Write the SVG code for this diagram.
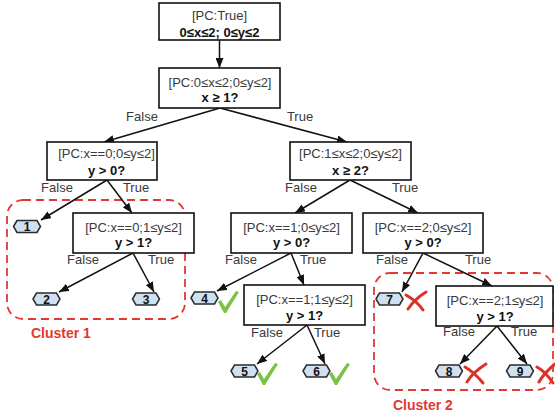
<svg xmlns="http://www.w3.org/2000/svg" width="555" height="417" viewBox="0 0 555 417">
<style>
.box{fill:#fff;stroke:#111;stroke-width:1.6}
.t1{font-family:"Liberation Sans",Arial,sans-serif;font-size:13px;fill:#3a3a3a;text-anchor:middle}
.t2{font-family:"Liberation Sans",Arial,sans-serif;font-size:13px;font-weight:bold;fill:#111;text-anchor:middle}
.lbl{font-family:"Liberation Sans",Arial,sans-serif;font-size:13px;fill:#3a3a3a;text-anchor:middle}
.hex{fill:#cfe0f1;stroke:#2a2a2a;stroke-width:1.5}
.num{font-family:"Liberation Sans",Arial,sans-serif;font-size:12px;font-weight:bold;fill:#111;text-anchor:middle}
.edge{stroke:#111;stroke-width:1.5;fill:none;marker-end:url(#ah)}
.cluster{fill:none;stroke:#e2392f;stroke-width:1.8;stroke-dasharray:8,5}
.clbl{font-family:"Liberation Sans",Arial,sans-serif;font-size:14px;font-weight:bold;fill:#e2392f}
.ok{fill:#7cc247}
.bad{fill:none;stroke:#d8322a;stroke-width:3;stroke-linecap:round}
</style>
<defs>
<marker id="ah" markerUnits="userSpaceOnUse" markerWidth="10" markerHeight="8" viewBox="0 0 10 8" refX="10" refY="4" orient="auto">
<path d="M0,0 L10,4 L0,8 z" fill="#111"/>
</marker>
<path id="hx" d="M-13.5,0 L-10,-6 L10,-6 L13.5,0 L10,6 L-10,6 Z"/>
<path id="chk" d="M0,11 L3,9 L7,16 L18,0 L21,1 L8,22 L6,22 Z"/>
</defs>

<g id="clusters">
<rect class="cluster" x="7" y="200" width="178" height="119" rx="16"/>
<text class="clbl" x="31" y="338">Cluster 1</text>
<rect class="cluster" x="374" y="273" width="179" height="117" rx="16"/>
<text class="clbl" x="393" y="410">Cluster 2</text>
</g>

<g id="connectors">
<line class="edge" x1="219.5" y1="40" x2="219.5" y2="68"/>
<line class="edge" x1="220" y1="108" x2="104" y2="142"/>
<line class="edge" x1="220" y1="108" x2="347" y2="142"/>
<line class="edge" x1="107" y1="180" x2="41" y2="220"/>
<line class="edge" x1="107" y1="180" x2="132" y2="213"/>
<line class="edge" x1="133" y1="253" x2="59" y2="292"/>
<line class="edge" x1="133" y1="253" x2="154" y2="292"/>
<line class="edge" x1="350" y1="180" x2="295" y2="213"/>
<line class="edge" x1="350" y1="180" x2="418" y2="213"/>
<line class="edge" x1="291" y1="253" x2="217" y2="291"/>
<line class="edge" x1="291" y1="253" x2="304" y2="285"/>
<line class="edge" x1="307" y1="325" x2="257" y2="364"/>
<line class="edge" x1="307" y1="325" x2="325" y2="364"/>
<line class="edge" x1="423" y1="253" x2="402" y2="292"/>
<line class="edge" x1="423" y1="253" x2="492" y2="286"/>
<line class="edge" x1="497" y1="326" x2="460" y2="364"/>
<line class="edge" x1="497" y1="326" x2="527" y2="364"/>
<text class="lbl" x="142" y="121">False</text>
<text class="lbl" x="300" y="121">True</text>
<text class="lbl" x="57" y="192">False</text>
<text class="lbl" x="136" y="192">True</text>
<text class="lbl" x="301" y="192">False</text>
<text class="lbl" x="405" y="192">True</text>
<text class="lbl" x="83" y="264">False</text>
<text class="lbl" x="161" y="264">True</text>
<text class="lbl" x="241" y="264">False</text>
<text class="lbl" x="313" y="264">True</text>
<text class="lbl" x="392" y="264">False</text>
<text class="lbl" x="478" y="264">True</text>
<text class="lbl" x="267" y="337">False</text>
<text class="lbl" x="327" y="337">True</text>
<text class="lbl" x="459" y="336">False</text>
<text class="lbl" x="524" y="336">True</text>
</g>

<g id="root">
<rect class="box" x="159" y="3" width="121" height="37"/>
<text class="t1" x="219.5" y="20">[PC:True]</text>
<text class="t2" x="219.5" y="37">0≤x≤2; 0≤y≤2</text>
</g>
<g id="n_x1">
<rect class="box" x="159" y="68" width="121" height="40"/>
<text class="t1" x="220" y="87">[PC:0≤x≤2;0≤y≤2]</text>
<text class="t2" x="220" y="102">x ≥ 1?</text>
</g>
<g id="n_L1">
<rect class="box" x="47" y="142" width="110" height="38"/>
<text class="t1" x="106.5" y="158">[PC:x==0;0≤y≤2]</text>
<text class="t2" x="106.5" y="175">y &gt; 0?</text>
</g>
<g id="n_R1">
<rect class="box" x="290" y="142" width="121" height="38"/>
<text class="t1" x="350.5" y="158">[PC:1≤x≤2;0≤y≤2]</text>
<text class="t2" x="350.5" y="175">x ≥ 2?</text>
</g>
<g id="n_L2">
<rect class="box" x="73" y="213" width="121" height="40"/>
<text class="t1" x="133.5" y="232">[PC:x==0;1≤y≤2]</text>
<text class="t2" x="133.5" y="247">y &gt; 1?</text>
</g>
<g id="n_M2">
<rect class="box" x="231" y="213" width="121" height="40"/>
<text class="t1" x="291.5" y="232">[PC:x==1;0≤y≤2]</text>
<text class="t2" x="291.5" y="247">y &gt; 0?</text>
</g>
<g id="n_R2">
<rect class="box" x="363" y="213" width="120" height="40"/>
<text class="t1" x="423" y="232">[PC:x==2;0≤y≤2]</text>
<text class="t2" x="423" y="247">y &gt; 0?</text>
</g>
<g id="n_M3">
<rect class="box" x="244" y="285" width="121" height="40"/>
<text class="t1" x="304.5" y="304">[PC:x==1;1≤y≤2]</text>
<text class="t2" x="304.5" y="320">y &gt; 1?</text>
</g>
<g id="n_R3">
<rect class="box" x="436" y="286" width="117" height="40"/>
<text class="t1" x="495" y="305">[PC:x==2;1≤y≤2]</text>
<text class="t2" x="495" y="321">y &gt; 1?</text>
</g>

<g id="leaf1"><use href="#hx" class="hex" x="27" y="226.5"/><text class="num" x="27" y="231">1</text></g>
<g id="leaf2"><use href="#hx" class="hex" x="46.5" y="299"/><text class="num" x="46.5" y="303.5">2</text></g>
<g id="leaf3"><use href="#hx" class="hex" x="146" y="299"/><text class="num" x="146" y="303.5">3</text></g>
<g id="leaf4"><use href="#hx" class="hex" x="204.5" y="298"/><text class="num" x="204.5" y="302.5">4</text>
<use href="#chk" class="ok" x="218" y="291"/></g>
<g id="leaf5"><use href="#hx" class="hex" x="244.5" y="371"/><text class="num" x="244.5" y="375.5">5</text>
<use href="#chk" class="ok" x="257" y="363"/></g>
<g id="leaf6"><use href="#hx" class="hex" x="316.5" y="371"/><text class="num" x="316.5" y="375.5">6</text>
<use href="#chk" class="ok" x="329" y="363"/></g>
<g id="leaf7"><use href="#hx" class="hex" x="389.5" y="299"/><text class="num" x="389.5" y="303.5">7</text>
<path class="bad" d="M406,295 C413,299 419,304 423,310 M426,292 C418,297 412,303 408,309"/></g>
<g id="leaf8"><use href="#hx" class="hex" x="449" y="371"/><text class="num" x="449" y="375.5">8</text>
<path class="bad" d="M465,367 C472,371 478,377 483,383 M486,364 C478,369 471,375 467,382"/></g>
<g id="leaf9"><use href="#hx" class="hex" x="520" y="371"/><text class="num" x="520" y="375.5">9</text>
<path class="bad" d="M537,367 C544,371 549,377 553,383 M555,364 C549,369 543,375 539,382"/></g>
</svg>
